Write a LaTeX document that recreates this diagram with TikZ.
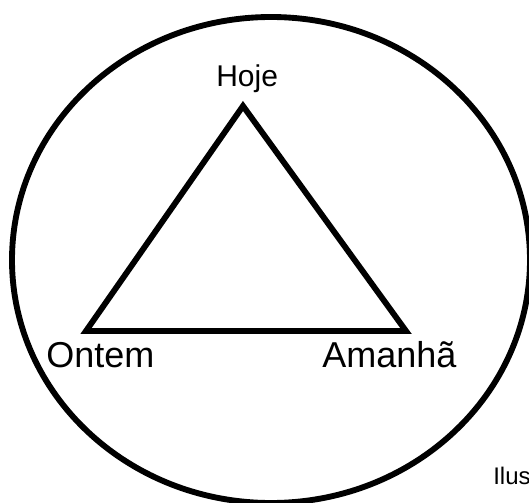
\documentclass[tikz,border=0pt]{standalone}
\usepackage{fontspec}
\setmainfont{Liberation Sans}
\usepackage{tikz}

\tikzset{
  thick line/.style={black, line width=4.4pt, line join=miter},
  word/.style={black, inner sep=0pt, anchor=base west}
}

\begin{document}
\begin{tikzpicture}[x=0.75pt, y=-0.75pt]
 \useasboundingbox (0,0) rectangle (529,503);
 \clip (0,0) rectangle (529,503);
 % outer ring
 \draw[thick line] (271,260) ellipse [x radius=259, y radius=243];

 % corners of the triangle
 \coordinate (hoje) at (243,106);
 \coordinate (ontem) at (86,331);
 \coordinate (amanha) at (406,331);
 \draw[thick line] (hoje) -- (amanha) -- (ontem) -- cycle;

 % labels
 \node[word, font=\fontsize{22.5}{27}\selectfont] (lhoje) at (216,87) {Hoje};
 \node[word, font=\fontsize{27}{32}\selectfont] (lontem) at (46,367) {Ontem};
 \node[word, font=\fontsize{27}{32}\selectfont] (lamanha) at (322,367) {Amanhã};
 \node[word, font=\fontsize{18}{22}\selectfont] (lilus) at (493,484) {Ilus};
\end{tikzpicture}
\end{document}
